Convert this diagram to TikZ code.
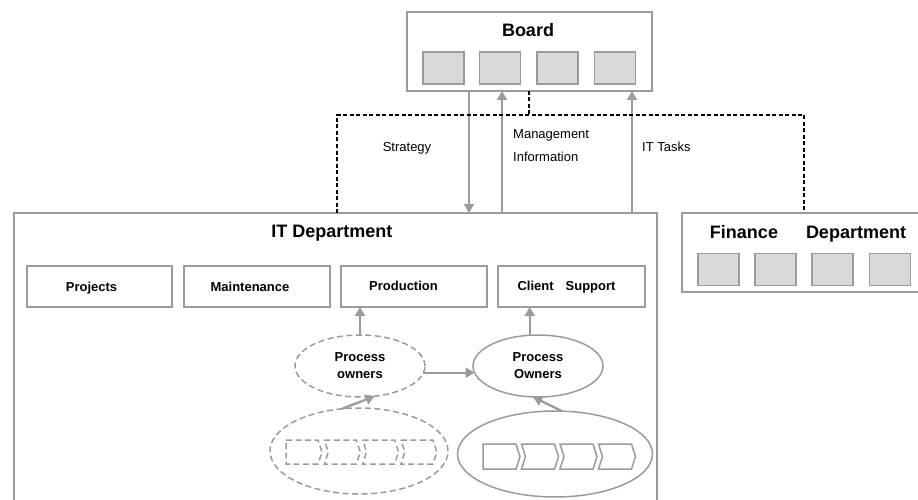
\documentclass[tikz,border=0pt]{standalone}
\usepackage{fontspec}
\setmainfont{Liberation Sans}
\usetikzlibrary{shapes.geometric,arrows.meta}
\definecolor{linegray}{RGB}{155,155,155}
\definecolor{cellfill}{RGB}{217,217,217}
\tikzset{
  frame/.style={draw=linegray, line width=1.5pt, inner sep=0pt, outer sep=0pt},
  unitbox/.style={frame, fill=cellfill, minimum width=41pt, minimum height=32pt},
  deptbox/.style={frame, minimum width=146pt, minimum height=41pt},
  title/.style={font=\fontsize{18}{22}\selectfont\bfseries, inner sep=0pt, anchor=base},
  boxlabel/.style={font=\fontsize{13}{16}\selectfont\bfseries, inner sep=0pt, anchor=base},
  flowlabel/.style={font=\fontsize{13}{16}\selectfont, inner sep=0pt},
  flow/.style={draw=linegray, line width=2.3pt, -{Triangle[width=10pt,length=9pt]}},
  link/.style={draw=black, line width=1.6pt, dash pattern=on 4pt off 2.5pt},
  gdash/.style={dash pattern=on 6pt off 3.5pt},
  owner/.style={ellipse, draw=linegray, line width=1.5pt, minimum width=130pt,
    minimum height=62pt, inner sep=0pt, outer sep=0pt, align=center,
    font=\fontsize{13}{17}\selectfont\bfseries},
  lane/.style={ellipse, draw=linegray, line width=1.5pt, inner sep=0pt, outer sep=0pt},
  chev/.style={draw=linegray, line width=1.5pt, line join=miter},
}
\begin{document}
\begin{tikzpicture}[x=1pt,y=-1pt]
\useasboundingbox (0,0) rectangle (918,500);
\clip (0,0) rectangle (918,500);
\fill[white] (0,0) rectangle (918,500);

% Board
\node[frame, minimum width=245pt, minimum height=79pt] (board) at (529.5,51.5) {};
\node[title] (boardtitle) at (528,37) {Board};
\foreach \i/\x in {1/443.5, 2/500, 3/557.5, 4/615}
  \node[unitbox] (b\i) at (\x,68) {};

% IT department
\node[frame, minimum width=643pt, minimum height=300pt, anchor=north west] (it) at (14,213) {};
\node[title] (ittitle) at (332,237) {IT Department};

\node[deptbox, minimum width=145pt] (proj) at (99.5,286.5) {};
\node[deptbox] (maint) at (257,286.5) {};
\node[deptbox] (prod) at (414,286.5) {};
\node[deptbox, minimum width=147pt] (cli) at (571.5,286.5) {};
\node[boxlabel] (projt) at (91.5,291) {Projects};
\node[boxlabel] (maintt) at (250,291) {Maintenance};
\node[boxlabel] (prodt) at (403.5,290) {Production};
\node[boxlabel] (clit) at (566.5,290) {Client\hspace{12pt}Support};

% Finance department
\node[frame, minimum width=245pt, minimum height=79pt, anchor=north west] (fin) at (682,213) {};
\node[title] (fintitle) at (808,238) {Finance\hspace{28pt}Department};
\foreach \i/\x in {1/718.5, 2/775.5, 3/832.5, 4/890}
  \node[unitbox] (f\i) at (\x,269.5) {};

% Flows between board and IT department
\coordinate (xs) at (469,0);
\coordinate (xm) at (502,0);
\coordinate (xt) at (632,0);
\coordinate (xd) at (529,0);
\coordinate (dl) at (337,115);
\coordinate (dr) at (804,115);
\draw[flow] (board.south -| xs) -- (it.north -| xs);
\draw[flow] (it.north -| xm) -- (board.south -| xm);
\draw[flow] (it.north -| xt) -- (board.south -| xt);
\draw[link] (board.south -| xd) -- (xd |- dl);
\draw[link] (it.north -| dl) -- (dl) -- (dr) -- (fin.north -| dr);

\node[flowlabel, anchor=base] (strat) at (407,152) {Strategy};
\node[flowlabel, anchor=base west] (mgmt1) at (513,139) {Management};
\node[flowlabel, anchor=base west] (mgmt2) at (513,161) {Information};
\node[flowlabel, anchor=base west] (tasks) at (642,152) {IT Tasks};

% Process owners and process chains
\node[owner, gdash] (po1) at (360,366) {Process\\owners};
\node[owner] (po2) at (538,366) {Process\\Owners};
\node[lane, gdash, minimum width=178pt, minimum height=86pt] (proc1) at (359,451) {};
\node[lane, minimum width=195pt, minimum height=86pt] (proc2) at (555,454) {};

\foreach \i in {0,...,3} {
  \pgfmathsetmacro\x{286+38.3*\i}
  \pgfmathsetmacro\n{\i==0 ? 0 : 4}
  \draw[chev, gdash] (\x,440) -- ++(32,0) -- ++(4,12) -- ++(-4,12) -- ++(-32,0) -- ++(\n,-12) -- cycle;
}
\foreach \i in {0,...,3} {
  \pgfmathsetmacro\x{483+38.5*\i}
  \pgfmathsetmacro\n{\i==0 ? 0 : 4}
  \draw[chev] (\x,444) -- ++(33,0) -- ++(4,12.5) -- ++(-4,12.5) -- ++(-33,0) -- ++(\n,-12.5) -- cycle;
}

\draw[flow] (po1.north) -- (po1.north |- prod.south);
\draw[flow] (po2.105) -- (po2.105 |- cli.south);
\draw[flow] (po1.-6) -- (po2.186);
\draw[flow] (proc1.112) -- (po1.-64);
\draw[flow] (proc2.81) -- (po2.-99);
\end{tikzpicture}
\end{document}
